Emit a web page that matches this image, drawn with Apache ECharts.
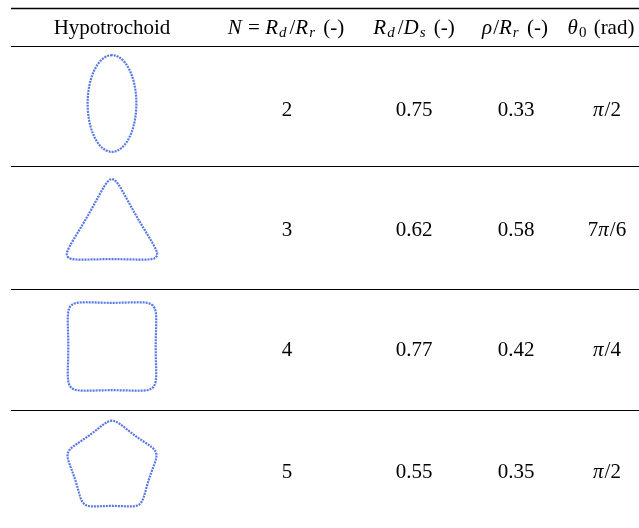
<!DOCTYPE html>
<html>
<head>
<meta charset="utf-8">
<script src="https://cdn.jsdelivr.net/npm/echarts@6/dist/echarts.min.js"></script>
<style>html,body{margin:0;padding:0;background:#fff}#c{width:639px;height:528px}</style>
</head>
<body>
<div id="c"></div>
<script>
// ---- data ----
const headers = [
  'Hypotrochoid',
  '{i|N} = {i|R}{s|d}/{i|R}{s|r} (-)',
  '{i|R}{s|d}/{i|D}{s|s} (-)',
  '{i|ρ}/{i|R}{s|r} (-)',
  '{i|θ}{s0|0} (rad)'
];
const N = [2, 3, 4, 5];
const RdDs = [0.75, 0.62, 0.77, 0.55];
const rhoRr = [0.33, 0.58, 0.42, 0.35];
const theta0Labels = ['{i|π}/2', '7{i|π}/6', '{i|π}/4', '{i|π}/2'];
const theta0 = [Math.PI / 2, 7 * Math.PI / 6, Math.PI / 4, Math.PI / 2];

// ---- layout (styles only) ----
const colX = [112, 287, 414, 516, 607];
const headX = [112, 286, 414, 515, 601];
const headY = 28;
const rowTextY = [110, 230, 350, 472];
const shapeCY = [103.5, 230.7, 346.5, 467];
const pxPerDs = [97, 97, 88, 97];
const FS = 21;
const FONT = '"Liberation Serif","Times New Roman",serif';

// hypotrochoid curve from the table parameters (in units of Ds)
function curve(k) {
  const R = RdDs[k], r = R / N[k], p = rhoRr[k] * r;
  const c = Math.cos(theta0[k]), s = Math.sin(theta0[k]);
  const pts = [];
  const M = 600;
  for (let j = 0; j <= M; j++) {
    const t = 2 * Math.PI * j / M;
    const x = (R - r) * Math.cos(t) + p * Math.cos((N[k] - 1) * t);
    const y = (R - r) * Math.sin(t) - p * Math.sin((N[k] - 1) * t);
    pts.push([x * c - y * s, x * s + y * c]);
  }
  return pts;
}

const chart = echarts.init(document.getElementById('c'), null, {renderer: 'canvas'});
const grids = [], xAxes = [], yAxes = [], series = [];
const GW = 120, GH = 116;
for (let k = 0; k < 4; k++) {
  grids.push({left: colX[0] - GW / 2, top: shapeCY[k] - GH / 2, width: GW, height: GH});
  const hx = GW / 2 / pxPerDs[k], hy = GH / 2 / pxPerDs[k];
  xAxes.push({type: 'value', gridIndex: k, min: -hx, max: hx, show: false});
  yAxes.push({type: 'value', gridIndex: k, min: -hy, max: hy, show: false});
  series.push({
    type: 'line', xAxisIndex: k, yAxisIndex: k, data: curve(k),
    showSymbol: false, smooth: false, silent: true, animation: false,
    lineStyle: {color: '#4468e4', width: 2.2, opacity: 0.9, type: [2, 1]}
  });
}

const rich = {
  i: {fontStyle: 'italic', fontSize: FS, fontFamily: FONT, fill: '#000', padding: [0, 1, 0, 0]},
  s: {fontStyle: 'italic', fontSize: 15, fontFamily: FONT, padding: [10, 3, 0, 0], fill: '#000'},
  s0: {fontSize: 15, fontFamily: FONT, padding: [10, 2, 0, 0], fill: '#000'}
};
const graphic = [];
const hl = (y, w) => ({type: 'line', shape: {x1: 11, y1: y, x2: 639, y2: y}, style: {stroke: '#000', lineWidth: w}, silent: true});
graphic.push(hl(8.5, 1.5), hl(46.5, 1), hl(166.5, 1), hl(289.5, 1), hl(410.5, 1));
headers.forEach((h, c) => {
  graphic.push({type: 'text', x: headX[c], y: headY, silent: true,
    style: {text: h, rich, font: FS + 'px ' + FONT, fill: '#000', align: 'center', verticalAlign: 'middle'}});
});
for (let k = 0; k < 4; k++) {
  const vals = [String(N[k]), RdDs[k].toFixed(2), rhoRr[k].toFixed(2), theta0Labels[k]];
  vals.forEach((v, j) => {
    graphic.push({type: 'text', x: colX[j + 1], y: rowTextY[k], silent: true,
      style: {text: v, rich, font: FS + 'px ' + FONT, fill: '#000', align: 'center', verticalAlign: 'middle'}});
  });
}

chart.setOption({
  animation: false,
  grid: grids, xAxis: xAxes, yAxis: yAxes, series,
  graphic
});
</script>
</body>
</html>
